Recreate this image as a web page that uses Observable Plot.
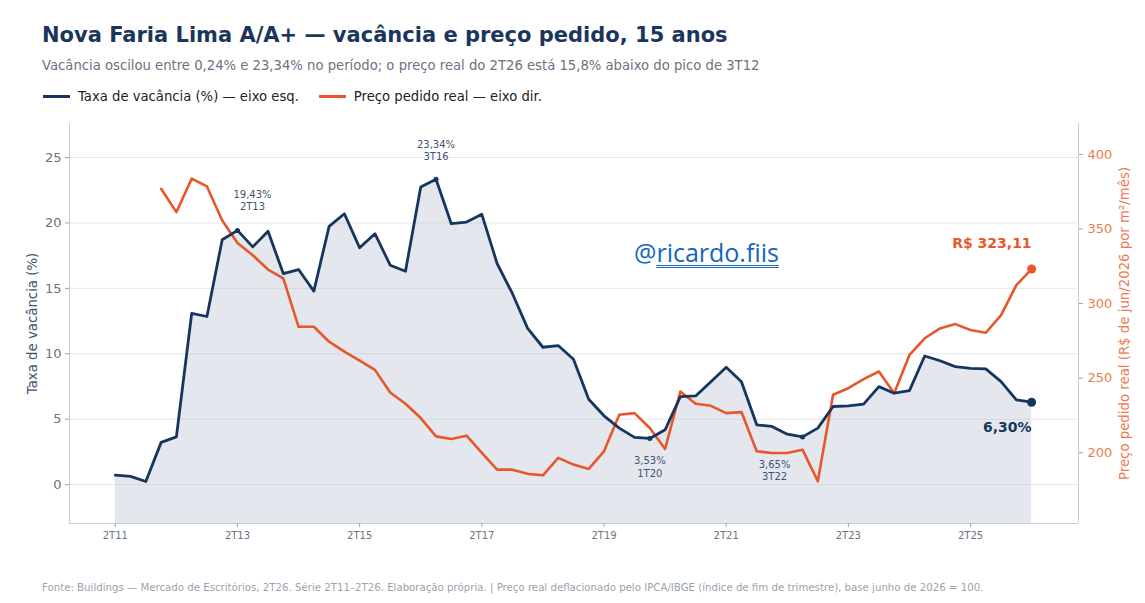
<!DOCTYPE html>
<html><head><meta charset="utf-8">
<script src="https://cdn.jsdelivr.net/npm/d3@7"></script>
<script src="https://cdn.jsdelivr.net/npm/@observablehq/plot@0.6"></script>
<style>
body{margin:0;background:#fff;font-family:"DejaVu Sans",sans-serif;width:1145px;height:603px;position:relative;overflow:hidden}
#title{position:absolute;left:42px;top:23px;font-size:21px;font-weight:bold;color:#1b365d;white-space:nowrap}
#subtitle{position:absolute;left:42px;top:58px;font-size:13.2px;color:#6b7280;white-space:nowrap}
#legend{position:absolute;left:43px;top:89px;font-size:13.2px;color:#222;white-space:nowrap;display:flex;align-items:center}
.sw{display:inline-block;width:27px;height:3px;margin-right:8px}
.it{display:flex;align-items:center}
#chart{position:absolute;left:0;top:113px}
#wm{position:absolute;left:634px;top:235px;font-family:"Open Sans",sans-serif;font-size:25px;color:#1565c0;white-space:nowrap}
#wm span{text-decoration:underline;text-decoration-style:double;text-decoration-thickness:1px;text-underline-offset:3px}
#foot{position:absolute;left:42px;top:582px;font-size:10.2px;color:#9aa3ad;white-space:nowrap}
</style></head><body>
<div id="title">Nova Faria Lima A/A+ — vacância e preço pedido, 15 anos</div>
<div id="subtitle">Vacância oscilou entre 0,24% e 23,34% no período; o preço real do 2T26 está 15,8% abaixo do pico de 3T12</div>
<div id="legend"><div class="it"><span class="sw" style="background:#16365d"></span>Taxa de vacância (%) — eixo esq.</div><div class="it" style="margin-left:20px"><span class="sw" style="background:#e8572a"></span>Preço pedido real — eixo dir.</div></div>
<div id="chart"></div>
<div id="wm">@<span>ricardo.fiis</span></div>
<div id="foot">Fonte: Buildings — Mercado de Escritórios, 2T26. Série 2T11–2T26. Elaboração própria.  |  Preço real deflacionado pelo IPCA/IBGE (índice de fim de trimestre), base junho de 2026 = 100.</div>
<script>
// quarter labels 2T11 .. 2T26
const quarters = [];
for (let y = 11; y <= 26; y++) for (let q = 1; q <= 4; q++) {
  if ((y === 11 && q < 2) || (y === 26 && q > 2)) continue;
  quarters.push(q + "T" + y);
}
const vacancy = [0.72,0.63,0.24,3.23,3.65,13.08,12.85,18.72,19.43,18.17,19.36,16.13,16.44,14.79,19.74,20.70,18.10,19.18,16.77,16.31,22.74,23.34,19.94,20.07,20.66,16.90,14.61,11.94,10.50,10.63,9.58,6.53,5.26,4.32,3.61,3.53,4.19,6.73,6.78,7.87,8.97,7.87,4.57,4.45,3.86,3.65,4.32,5.97,6.02,6.15,7.49,6.99,7.19,9.83,9.47,9.02,8.89,8.85,7.87,6.48,6.30];
const price = [null,null,null,376.9,361.3,383.7,378.5,355.7,340.6,332.4,322.8,316.8,284.4,284.4,274.4,267.7,261.7,255.5,240.3,232.8,223.2,210.9,209.2,211.4,199.8,188.6,188.6,185.8,184.8,196.5,192.0,189.1,200.9,225.4,226.5,216.5,202.5,241.0,232.8,231.4,226.5,227.2,200.9,199.8,199.8,202.0,180.8,238.8,243.2,249.3,254.4,239.9,265.5,276.7,283.3,286.2,282.2,280.4,292.2,312.3,323.11];
const xTickLabels = ["2T11","2T13","2T15","2T17","2T19","2T21","2T23","2T25"];
const leftTicks = [0,5,10,15,20,25];
const rightTicks = [200,250,300,350,400];
const yLabel = "Taxa de vacância (%)";
const y2Label = "Preço pedido real (R$ de jun/2026 por m²/mês)";

const navy = "#16365d", orange = "#e8572a";
const yDom = [-2.97, 27.6], xDom = [-3, 63.07];
const pScale = d3.scaleLinear([152.5, 420.7], yDom);

const rows = quarters.map((q, i) => ({i, q, v: vacancy[i], p: price[i], pv: price[i] == null ? null : pScale(price[i])}));
const byQ = q => rows.find(d => d.q === q);
const last = rows[rows.length - 1];
const fmt = v => v.toFixed(2).replace(".", ",");
const ann = (q, opts) => Plot.text([byQ(q)], {x: "i", y: "v", text: d => fmt(d.v) + "%\n" + d.q, fontSize: 10, fill: "#3d5573", lineHeight: 1.25, ...opts});

const chart = Plot.plot({
  width: 1145, height: 451, marginTop: 10, marginLeft: 69, marginRight: 67, marginBottom: 41,
  style: {fontFamily: "DejaVu Sans", background: "transparent", overflow: "visible"},
  x: {domain: xDom}, y: {domain: yDom},
  marks: [
    Plot.areaY(rows, {x: "i", y1: yDom[0], y2: "v", fill: "#e4e8ee"}),
    Plot.gridY(leftTicks, {stroke: "#aab3c0", strokeOpacity: 0.3}),
    Plot.ruleX([xDom[0], xDom[1]], {stroke: "#c5cdd8"}),
    Plot.ruleY([yDom[0]], {stroke: "#c5cdd8"}),
    Plot.axisY(leftTicks, {anchor: "left", tickSize: 4, tickPadding: 4, fontSize: 13, stroke: "#9aa3ad", fill: "#6b7280", label: null}),
    Plot.axisY(rightTicks.map(pScale), {anchor: "right", tickSize: 4, tickPadding: 5, fontSize: 13, stroke: "#ef8a66", fill: "#ee7a52", tickFormat: d => Math.round(pScale.invert(d)), label: null}),
    Plot.axisX(xTickLabels.map(t => quarters.indexOf(t)), {anchor: "bottom", tickSize: 4, tickPadding: 4, fontSize: 10, stroke: "#9aa3ad", fill: "#6b7280", tickFormat: i => quarters[i], label: null}),
    Plot.text([yLabel], {frameAnchor: "left", textAnchor: "middle", dx: -37, rotate: -90, fontSize: 13.3, fill: "#3d5573"}),
    Plot.text([y2Label], {frameAnchor: "right", textAnchor: "middle", dx: 46, rotate: -90, fontSize: 13.3, fill: "#ee7a52"}),
    Plot.lineY(rows.filter(d => d.p != null), {x: "i", y: "pv", stroke: orange, strokeWidth: 2.6}),
    Plot.lineY(rows, {x: "i", y: "v", stroke: navy, strokeWidth: 2.8}),
    Plot.dot(["2T13","3T16","1T20","3T22"].map(byQ), {x: "i", y: "v", r: 2.5, fill: navy}),
    Plot.dot([last], {x: "i", y: "v", r: 4.5, fill: navy}),
    Plot.dot([last], {x: "i", y: "pv", r: 4.5, fill: orange}),
    ann("2T13", {dx: 15, dy: -20, lineAnchor: "bottom"}),
    ann("3T16", {dx: 0, dy: -19, lineAnchor: "bottom"}),
    ann("1T20", {dx: 0, dy: 17, lineAnchor: "top"}),
    ann("3T22", {dx: -28, dy: 22, lineAnchor: "top"}),
    Plot.text([last], {x: "i", y: "v", text: d => fmt(d.v) + "%", dy: 25, textAnchor: "end", fontSize: 14, fontWeight: "bold", fill: navy}),
    Plot.text([last], {x: "i", y: "pv", text: d => "R$ " + fmt(d.p), dy: -26, textAnchor: "end", fontSize: 14, fontWeight: "bold", fill: orange})
  ]
});
document.getElementById("chart").appendChild(chart);
</script>
</body></html>
